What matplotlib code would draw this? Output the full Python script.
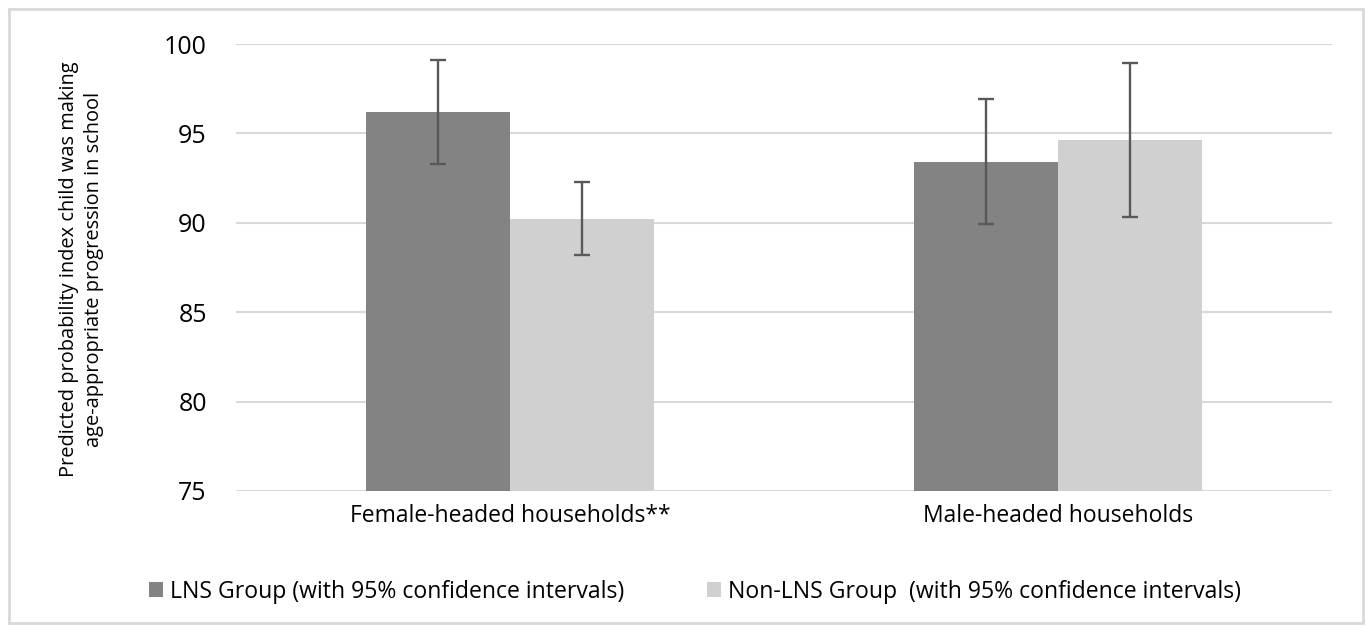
import numpy as np
import matplotlib.pyplot as plt
from matplotlib.patches import Rectangle

categories = ['Female-headed households**', 'Male-headed households']
series_names = ['LNS Group (with 95% confidence intervals)',
                'Non-LNS Group  (with 95% confidence intervals)']
lns_vals = [96.2, 93.4]
lns_low = [93.3, 89.95]
lns_high = [99.1, 96.95]
non_vals = [90.2, 94.65]
non_low = [88.2, 90.35]
non_high = [92.3, 98.95]

plt.rcParams['font.family'] = ['Open Sans', 'DejaVu Sans']

fig = plt.figure(figsize=(13.72, 6.32), dpi=100)
ax = fig.add_axes([236/1372, 1-491/632, 1096/1372, 447/632])

x = np.arange(len(categories))
w = 0.263
err_kw = dict(ecolor='#595959', elinewidth=1.7, capsize=5.5, capthick=1.7)
lns_err = [np.array(lns_vals) - np.array(lns_low), np.array(lns_high) - np.array(lns_vals)]
non_err = [np.array(non_vals) - np.array(non_low), np.array(non_high) - np.array(non_vals)]
ax.bar(x - w/2, lns_vals, w, color='#838384', label=series_names[0],
       yerr=lns_err, error_kw=err_kw, zorder=2)
ax.bar(x + w/2, non_vals, w, color='#d0d0d0', label=series_names[1],
       yerr=non_err, error_kw=err_kw, zorder=2)

ax.set_xlim(-0.5, 1.5)
ax.set_ylim(75, 100)
ax.set_yticks([75, 80, 85, 90, 95, 100])
ax.set_xticks(x)
ax.set_xticklabels(categories, fontsize=16.5)
ax.tick_params(axis='y', labelsize=18, length=0, pad=21)
ax.tick_params(axis='x', length=0, pad=9)
ax.grid(axis='y', color='#d9d9d9', linewidth=1.5, zorder=0)
for s in ax.spines.values():
    s.set_visible(False)
ax.set_axisbelow(True)

fig.text(81.5/1372, 1-269/632, 'Predicted probability index child was making\nage-appropriate progression in school',
         rotation=90, ha='center', va='center', fontsize=14.4, linespacing=1.3)

ax.legend(loc='center', bbox_to_anchor=(695/1372, 1-592/632), bbox_transform=fig.transFigure,
          ncol=2, frameon=False, fontsize=16.6, handlelength=0.62, handleheight=0.62,
          columnspacing=3.6, handletextpad=0.3)

fig.patches.append(Rectangle((9/1372, 9/632), 1354/1372, 614/632, transform=fig.transFigure,
                             fill=False, edgecolor='#d9d9d9', linewidth=2))

fig.savefig('out.png', dpi=100)
